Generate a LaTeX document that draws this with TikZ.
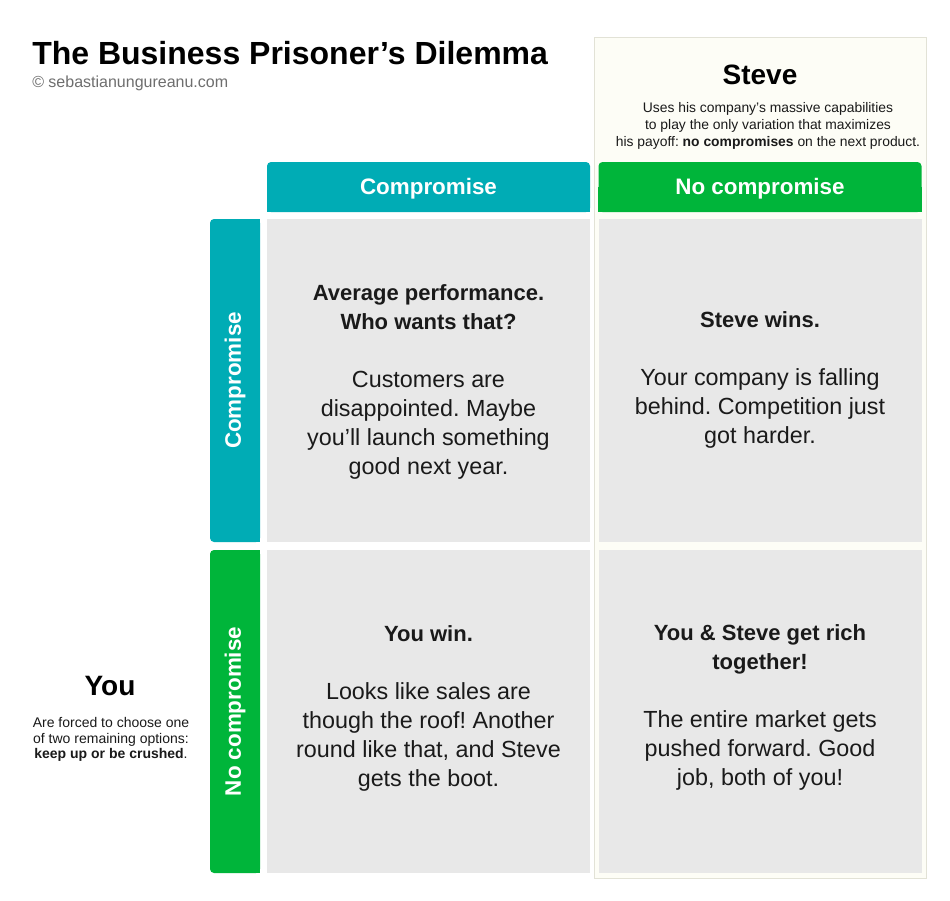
\documentclass[tikz,border=0pt]{standalone}
\usepackage{fontspec}
\setmainfont{Liberation Sans}
\frenchspacing
\definecolor{teal}{RGB}{0,172,181}
\definecolor{grn}{RGB}{0,181,58}
\definecolor{cellgray}{RGB}{232,232,232}
\definecolor{cream}{RGB}{253,253,246}
\definecolor{creamline}{RGB}{226,226,214}
\definecolor{txt}{RGB}{26,26,26}
\definecolor{subgray}{RGB}{110,110,110}
\newcommand\hd[1]{{\fontsize{16.5}{21.75}\selectfont\bfseries #1}}
\tikzset{
  cellbox/.style={fill=cellgray, inner sep=0, minimum width=242.25pt, minimum height=242.25pt},
  colhead/.style={inner sep=0, minimum width=242.25pt, minimum height=37.5pt, rounded corners=3pt, text=white, text height=12pt, text depth=1.5pt, font=\fontsize{16.8}{20}\selectfont\bfseries},
  rowhead/.style={inner sep=0, minimum width=242.25pt, minimum height=37.5pt, rounded corners=3pt, text=white, rotate=90, font=\fontsize{16.8}{20}\selectfont\bfseries},
  celltext/.style={inner sep=0, align=center, text=txt, font=\fontsize{17.5}{21.75}\selectfont},
  desc/.style={inner sep=0, align=center, text=txt, font=\fontsize{10.4}{12.75}\selectfont},
  player/.style={inner sep=0, text=black, font=\fontsize{21}{25}\selectfont\bfseries}
}
\begin{document}
\begin{tikzpicture}[x=0.75pt,y=-0.75pt]
\useasboundingbox (0,0) rectangle (950,900);
\fill[white] (0,0) rectangle (950,900);

% Steve column background
\node[fill=cream, draw=creamline, line width=0.75pt, inner sep=0, minimum width=249pt, minimum height=630.75pt] (stevecol) at (760,457.5) {};

% Title
\node[anchor=base west, inner sep=0, font=\fontsize{24}{28}\selectfont\bfseries] (title) at (32,64) {The Business Prisoner’s Dilemma};
\node[anchor=base west, inner sep=0, text=subgray, font=\fontsize{12}{14}\selectfont] (copy) at (32,87) {© sebastianungureanu.com};

% Steve
\node[player] (steve) at (760,75) {Steve};
\node[desc] (stevedesc) at (768,126) {Uses his company’s massive capabilities\\ to play the only variation that maximizes\\ his payoff: \textbf{no compromises} on the next product.};

% Column headers
\fill[teal] (267,187) rectangle (590,212);
\node[colhead, fill=teal] (ch1) at (428.5,187) {Compromise};
\fill[grn] (598,187) rectangle (922,212);
\node[colhead, fill=grn] (ch2) at (760,187) {No compromise};

% Row headers
\fill[teal] (235,219) rectangle (260,542);
\node[rowhead, fill=teal] (rh1) at (235,380.5) {Compromise};
\fill[grn] (235,550) rectangle (260,873);
\node[rowhead, fill=grn] (rh2) at (235,711.5) {No compromise};

% Cells
\node[cellbox] (c11) at (428.5,380.5) {};
\node[cellbox] (c12) at (760,380.5) {};
\node[cellbox] (c21) at (428.5,711.5) {};
\node[cellbox] (c22) at (760,711.5) {};

\node[celltext] (t11) at (428.5,382) {\hd{Average performance.}\\ \hd{Who wants that?}\\[21.75pt] Customers are\\ disappointed. Maybe\\ you’ll launch something\\ good next year.};
\node[celltext] (t12) at (760,379.5) {\hd{Steve wins.}\\[21.75pt] Your company is falling\\ behind. Competition just\\ got harder.};
\node[celltext] (t21) at (428.5,708) {\hd{You win.}\\[21.75pt] Looks like sales are\\ though the roof! Another\\ round like that, and Steve\\ gets the boot.};
\node[celltext] (t22) at (760,707.5) {\hd{You \& Steve get rich}\\ \hd{together!}\\[21.75pt] The entire market gets\\ pushed forward. Good\\ job, both of you!};

% You
\node[player] (you) at (110,686) {You};
\node[desc, font=\fontsize{10.5}{11.8}\selectfont] (youdesc) at (111,739.5) {Are forced to choose one\\ of two remaining options:\\ \textbf{keep up or be crushed}.};
\end{tikzpicture}
\end{document}
